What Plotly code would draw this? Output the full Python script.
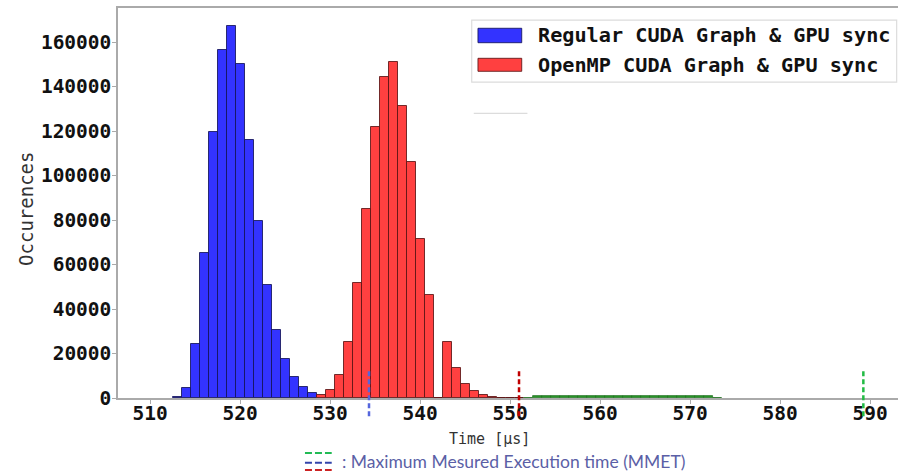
import plotly.graph_objects as go

# ---- histogram data (1 µs bins) ----
BIN_WIDTH = 1.0

regular_centers = [513.05, 514.05, 515.05, 516.05, 517.05, 518.05, 519.05, 520.05,
                   521.05, 522.05, 523.05, 524.05, 525.05, 526.05, 527.05, 528.05]
regular_counts = [500, 4500, 24300, 65200, 119600, 156500, 167000, 150200,
                  116100, 79400, 50800, 30400, 17700, 9600, 4800, 2250]

openmp_centers = [529.05, 530.05, 531.05, 532.05, 533.05, 534.05, 535.05, 536.05,
                  537.05, 538.05, 539.05, 540.05, 541.05, 542.05, 543.05, 544.05,
                  545.05, 546.05, 547.05, 548.05, 549.05, 550.05, 551.05]
openmp_counts = [1200, 3400, 10500, 25000, 51700, 85100, 121600, 144100,
                 151000, 131100, 105900, 71500, 46400, 0, 25200, 13500,
                 6300, 3000, 1200, 400, 200, 100, 50]

tail_centers = [552.05, 553.05, 554.05, 555.05, 556.05, 557.05, 558.05, 559.05,
                560.05, 561.05, 562.05, 563.05, 564.05, 565.05, 566.05, 567.05,
                568.05, 569.05, 570.05, 571.05, 572.05, 573.05]
tail_counts = [50, 700, 700, 700, 700, 700, 700, 700,
               700, 700, 700, 700, 700, 700, 700, 700,
               700, 700, 700, 700, 700, 100]

series_names = ["Regular CUDA Graph & GPU sync", "OpenMP CUDA Graph & GPU sync"]
series_colors = ["rgba(51,51,255,1)", "rgba(255,64,64,1)"]
series_edges = ["rgba(20,20,90,0.85)", "rgba(90,20,20,0.85)"]
tail_color = "rgba(40,150,40,1)"

# Maximum measured execution time markers
mmet_values = [534.33, 551.0, 589.26]
mmet_colors = ["#5566dd", "#c00000", "#22bb44"]
MMET_TOP = 12000

x_ticks = [510, 520, 530, 540, 550, 560, 570, 580, 590]
y_ticks = [0, 20000, 40000, 60000, 80000, 100000, 120000, 140000, 160000]

X_RANGE = [506.44, 593.11]
Y_MAX = 175300

MONO = "DejaVu Sans Mono"

fig = go.Figure()
fig.add_trace(go.Bar(x=regular_centers, y=regular_counts, width=BIN_WIDTH,
                     name=series_names[0],
                     marker=dict(color=series_colors[0],
                                 line=dict(color=series_edges[0], width=1))))
fig.add_trace(go.Bar(x=openmp_centers, y=openmp_counts, width=BIN_WIDTH,
                     name=series_names[1],
                     marker=dict(color=series_colors[1],
                                 line=dict(color=series_edges[1], width=1))))
fig.add_trace(go.Bar(x=tail_centers, y=tail_counts, width=BIN_WIDTH,
                     name="tail", showlegend=False,
                     marker=dict(color=tail_color,
                                 line=dict(color="rgba(30,110,30,0.9)", width=0.8))))

shapes = []
# dashed MMET markers, hanging below the axis line
for v, c in zip(mmet_values, mmet_colors):
    shapes.append(dict(type="line", xref="x", yref="paper",
                       x0=v, x1=v, y0=MMET_TOP / Y_MAX, y1=-0.05,
                       line=dict(color=c, width=2.5, dash="5px,3px")))

# legend frame and swatches
shapes.append(dict(type="rect", xref="paper", yref="paper",
                   x0=0.4535, x1=0.9983, y0=0.810, y1=0.969,
                   line=dict(color="#dcdcdc", width=1.2), fillcolor="white",
                   layer="above"))
shapes.append(dict(type="line", xref="paper", yref="paper",
                   x0=0.4561, x1=0.5249, y0=0.730, y1=0.730,
                   line=dict(color="#dcdcdc", width=1.2)))
swatch_rows = [(0.911, 0.948), (0.8377, 0.871)]
for (y0, y1), c, e in zip(swatch_rows, series_colors, series_edges):
    shapes.append(dict(type="rect", xref="paper", yref="paper",
                       x0=0.4615, x1=0.5176, y0=y0, y1=y1,
                       line=dict(color=e, width=1), fillcolor=c, layer="above"))

# key for the MMET dashes below the chart
key_rows = [-0.141, -0.166, -0.1846]
key_colors = ["#22bb55", "#3344aa", "#cc2222"]
for yk, c in zip(key_rows, key_colors):
    shapes.append(dict(type="line", xref="paper", yref="paper",
                       x0=0.2397, x1=0.274, y0=yk, y1=yk,
                       line=dict(color=c, width=2.2, dash="7px,3px")))

annotations = []
label_rows = [0.9308, 0.855]
for name, yl in zip(series_names, label_rows):
    annotations.append(dict(xref="paper", yref="paper", x=0.5355, y=yl,
                            xanchor="left", yanchor="middle", showarrow=False,
                            text=name,
                            font=dict(family=MONO, size=20.2, color="#111",
                                      weight="bold")))
annotations.append(dict(xref="paper", yref="paper", x=0.4765, y=-0.104,
                        xanchor="center", yanchor="middle", showarrow=False,
                        text="Time [µs]",
                        font=dict(family=MONO, size=15, color="#333")))
annotations.append(dict(xref="paper", yref="paper", x=-0.1179, y=0.485,
                        xanchor="center", yanchor="middle", showarrow=False,
                        text="Occurences", textangle=-90,
                        font=dict(family=MONO, size=19, color="#333")))
annotations.append(dict(xref="paper", yref="paper", x=0.2846, y=-0.164,
                        xanchor="left", yanchor="middle", showarrow=False,
                        text=": Maximum Mesured Execution time (MMET)",
                        font=dict(family="Lato", size=17.5, color="#5b5fa6")))

fig.update_layout(
    width=898, height=471,
    margin=dict(l=118, r=0, t=8, b=73),
    paper_bgcolor="white", plot_bgcolor="white",
    barmode="overlay", bargap=0, showlegend=False,
    shapes=shapes, annotations=annotations,
)
fig.update_xaxes(range=X_RANGE, tickvals=x_ticks, ticktext=[str(t) for t in x_ticks],
                 showgrid=False, zeroline=False,
                 showline=True, linecolor="#aaaaaa", linewidth=1.5, mirror=True,
                 ticks="outside", ticklen=4, tickcolor="#aaaaaa",
                 ticklabelstandoff=-7,
                 tickfont=dict(family=MONO, size=19.5, color="#111", weight="bold"))
fig.update_yaxes(range=[0, Y_MAX], tickvals=y_ticks, ticktext=[str(t) for t in y_ticks],
                 showgrid=False, zeroline=False,
                 showline=True, linecolor="#aaaaaa", linewidth=1.5,
                 ticks="outside", ticklen=4, tickcolor="#aaaaaa",
                 ticklabelstandoff=-3,
                 tickfont=dict(family=MONO, size=19.5, color="#111", weight="bold"))

fig.write_html("out.html")
